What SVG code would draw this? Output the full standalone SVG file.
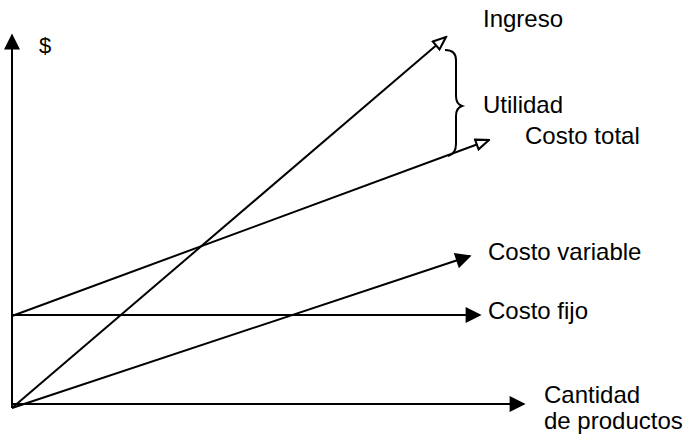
<svg xmlns="http://www.w3.org/2000/svg" width="688" height="438" viewBox="0 0 688 438">
<defs>
<style>
.ln{stroke:#000;stroke-width:2;fill:none}
.t{font-family:"Liberation Sans",Arial,sans-serif;font-size:24px;fill:#000}
</style>
<marker id="fb" viewBox="0 0 10 10" refX="9" refY="5" markerWidth="20" markerHeight="16" markerUnits="userSpaceOnUse" orient="auto"><path d="M0,0 L10,5 L0,10 z" fill="#000"/></marker>
<marker id="oa" viewBox="0 0 12 10" refX="11" refY="5" markerWidth="16" markerHeight="13" markerUnits="userSpaceOnUse" orient="auto"><path d="M1,1 L11,5 L1,9 z" fill="#fff" stroke="#000" stroke-width="1.6"/></marker>
</defs>
<g id="axes">
<line class="ln" x1="12" y1="408" x2="12" y2="35" marker-end="url(#fb)"/>
<line class="ln" x1="12" y1="404" x2="524" y2="404" marker-end="url(#fb)"/>
</g>
<g id="connectors">
<line class="ln" x1="12" y1="408" x2="446" y2="37" marker-end="url(#oa)"/>
<line class="ln" x1="12" y1="316" x2="489" y2="140" marker-end="url(#oa)"/>
<line class="ln" x1="12" y1="408" x2="470" y2="256" marker-end="url(#fb)"/>
<line class="ln" x1="12" y1="315" x2="480" y2="315" marker-end="url(#fb)"/>
<path class="ln" d="M445,50 Q456,50 456,60 L456,96 Q456,104 462,106 Q456,108 456,116 L456,144 Q456,154 448,156" stroke-width="1.8"/>
</g>
<g id="labels">
<text class="t" x="39" y="53" style="font-size:22px">$</text>
<text class="t" x="483" y="27">Ingreso</text>
<text class="t" x="483" y="113">Utilidad</text>
<text class="t" x="525" y="144">Costo total</text>
<text class="t" x="488" y="260">Costo variable</text>
<text class="t" x="488" y="319">Costo fijo</text>
<text class="t" x="544" y="403">Cantidad</text>
<text class="t" x="544" y="429">de productos</text>
</g>
</svg>
